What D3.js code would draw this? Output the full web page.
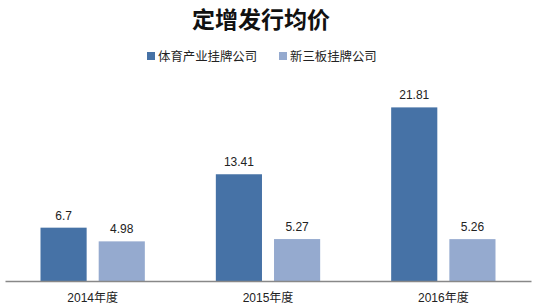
<!DOCTYPE html>
<html>
<head>
<meta charset="utf-8">
<script src="https://cdn.jsdelivr.net/npm/d3@7"></script>
<style>
  body { margin: 0; background: #fff; }
  text { font-family: "Liberation Sans", "Noto Sans CJK SC", sans-serif; }
</style>
</head>
<body>
<svg id="chart"></svg>
<script>
var years = ["2014年度", "2015年度", "2016年度"]
var series = ["体育产业挂牌公司", "新三板挂牌公司"]
var sportsValues = [6.7, 13.41, 21.81]
var neeqValues = [4.98, 5.27, 5.26]
var colors = ["#4672a6", "#95aacf"]

var width = 536, height = 306
var svg = d3.select("#chart")
  .attr("width", width)
  .attr("height", height)

// title
svg.append("text")
  .attr("x", 261)
  .attr("y", 28)
  .attr("text-anchor", "middle")
  .attr("font-size", 23)
  .attr("font-weight", "bold")
  .attr("fill", "#111")
  .text("定增发行均价")

// legend
var legendX = [147, 279]
var legend = svg.append("g")
  .selectAll("g")
  .data(series)
  .enter()
  .append("g")
  .attr("transform", function(d, i) { return "translate(" + legendX[i] + ",52)" })
legend.append("rect")
  .attr("width", 8)
  .attr("height", 8)
  .attr("fill", function(d, i) { return colors[i] })
legend.append("text")
  .attr("x", 11)
  .attr("y", 8.5)
  .attr("font-size", 12.4)
  .attr("fill", "#222")
  .text(function(d) { return d })

// scales
var x0 = d3.scaleBand()
  .domain(years)
  .range([5, 531])
var x1 = d3.scaleBand()
  .domain(series)
  .range([35.5, x0.bandwidth() - 35.5])
  .paddingInner(0.207)
var y = d3.scaleLinear()
  .domain([0, 25])
  .range([281, 82])

var rows = years.map(function(yr, i) {
  return { year: yr, values: [sportsValues[i], neeqValues[i]] }
})

var groups = svg.append("g")
  .selectAll("g")
  .data(rows)
  .enter()
  .append("g")
  .attr("transform", function(d) { return "translate(" + x0(d.year) + ",0)" })

groups.selectAll("rect")
  .data(function(d) { return d.values.map(function(v, i) { return { key: series[i], value: v, i: i } }) })
  .enter()
  .append("rect")
  .attr("x", function(d) { return x1(d.key) })
  .attr("y", function(d) { return y(d.value) })
  .attr("width", x1.bandwidth())
  .attr("height", function(d) { return y(0) - y(d.value) })
  .attr("fill", function(d) { return colors[d.i] })

groups.selectAll("text.val")
  .data(function(d) { return d.values.map(function(v, i) { return { key: series[i], value: v } }) })
  .enter()
  .append("text")
  .attr("class", "val")
  .attr("x", function(d) { return x1(d.key) + x1.bandwidth() / 2 })
  .attr("y", function(d) { return y(d.value) - 8 })
  .attr("text-anchor", "middle")
  .attr("font-size", 12)
  .attr("fill", "#222")
  .text(function(d) { return d.value })

// x axis
var xAxis = svg.append("g")
  .attr("transform", "translate(0,281)")
  .call(d3.axisBottom(x0).tickSize(0).tickPadding(12))
xAxis.select(".domain").attr("stroke", "#888").attr("stroke-width", 1.5)
xAxis.selectAll("text")
  .attr("font-size", 12)
  .attr("fill", "#222")
  .style("font-family", "\"Liberation Sans\", \"Noto Sans CJK SC\", sans-serif")
</script>
</body>
</html>
